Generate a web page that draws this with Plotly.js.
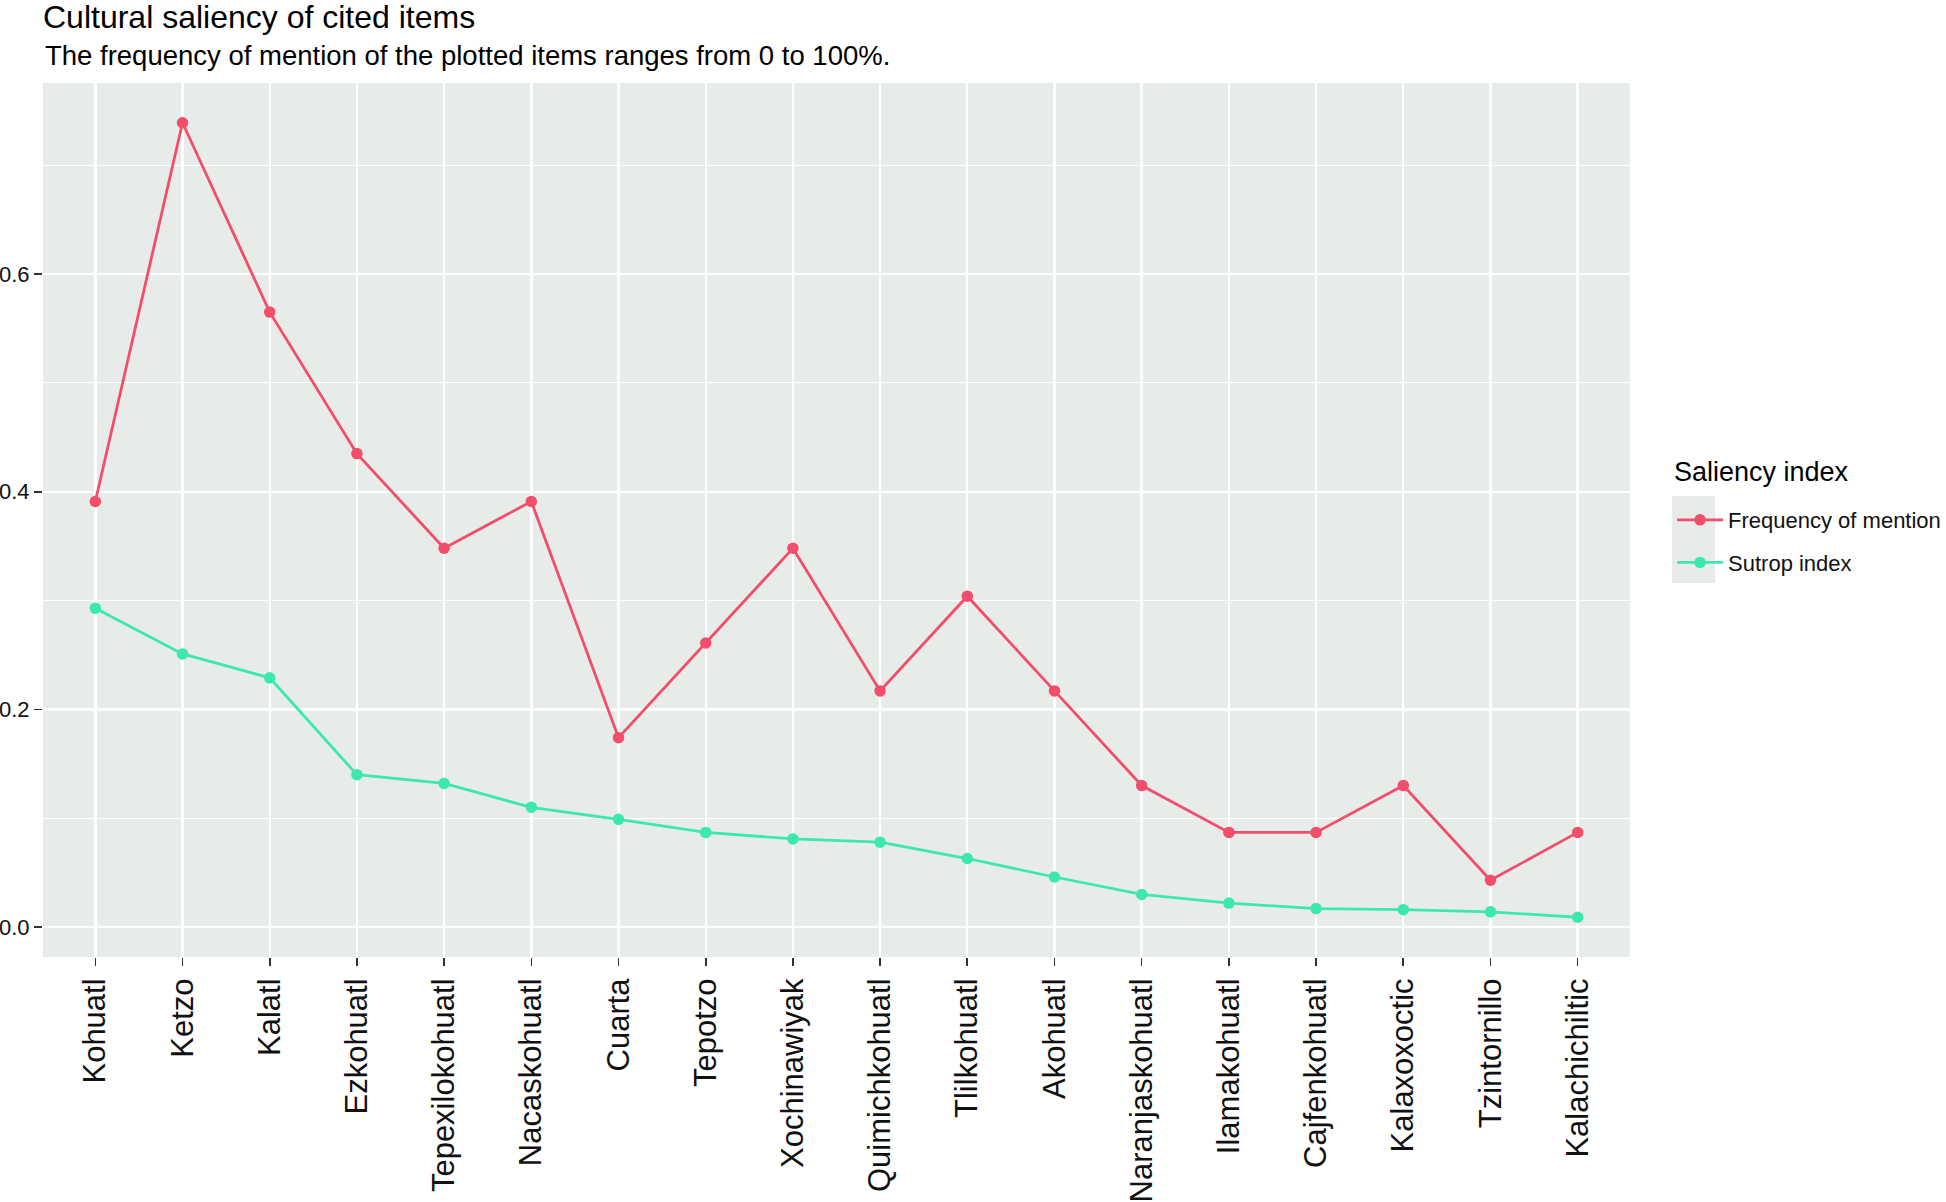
<!DOCTYPE html>
<html>
<head>
<meta charset="utf-8">
<script src="https://cdn.plot.ly/plotly-3.0.1.min.js"></script>
<style>
  html, body { margin: 0; padding: 0; background: #fff; }
  #chart { width: 1946px; height: 1202px; }
</style>
</head>
<body>
<div id="chart"></div>
<script>
// cited items, in plotted order
const items = [
    'Kohuatl', 'Ketzo', 'Kalatl', 'Ezkohuatl', 'Tepexilokohuatl', 'Nacaskohuatl',
    'Cuarta', 'Tepotzo', 'Xochinawiyak', 'Quimichkohuatl', 'Tlilkohuatl', 'Akohuatl',
    'Naranjaskohuatl', 'Ilamakohuatl', 'Cajfenkohuatl', 'Kalaxoxoctic', 'Tzintornillo', 'Kalachichiltic'
];

// frequency of mention (share of informants)
const frequency = [
    0.391, 0.739, 0.565, 0.435, 0.348, 0.391,
    0.174, 0.261, 0.348, 0.217, 0.304, 0.217,
    0.130, 0.087, 0.087, 0.130, 0.043, 0.087
];

// Sutrop index
const sutrop = [
    0.293, 0.251, 0.229, 0.140, 0.132, 0.110,
    0.099, 0.087, 0.081, 0.078, 0.063, 0.046,
    0.030, 0.022, 0.017, 0.016, 0.014, 0.009
];

const yTicks = [0, 0.2, 0.4, 0.6];

const FONT = 'Liberation Sans, Arial, Helvetica, sans-serif';
const RED = '#F24D6A';
const GREEN = '#3DE8B0';
const PANEL = '#E7ECE9';

function lineTrace(name, values, color, group) {
    return {
        x: items,
        y: values,
        name,
        legendgroup: group,
        type: 'scatter',
        mode: 'lines+markers',
        line: { color, width: 2.8 },
        marker: { color, size: 11.5 },
        hoverinfo: 'x+y+name',
    };
}

const data = [
    lineTrace('Frequency of mention', frequency, RED, 'freq'),
    lineTrace('Sutrop index', sutrop, GREEN, 'sutrop'),
];

// ggplot-like padding around the data
const yMin = Math.min(...sutrop), yMax = Math.max(...frequency);
const pad = (yMax - yMin) * 0.05;

const layout = {
    width: 1946,
    height: 1202,
    // fixed panel; keep the legend from pushing the margins
    margin: { l: 43, r: 316, t: 83, b: 245, autoexpand: false },
    paper_bgcolor: '#fff',
    plot_bgcolor: PANEL,
    font: { family: FONT, color: '#111' },
    title: {
        text: 'Cultural saliency of cited items',
        font: { size: 32, color: '#000' },
        xref: 'paper', x: 0, xanchor: 'left',
        yref: 'container', y: 0.986, yanchor: 'middle',
    },
    annotations: [{
        text: 'The frequency of mention of the plotted items ranges from 0 to 100%.',
        xref: 'paper', x: 0, xanchor: 'left',
        yref: 'paper', y: 1.031, yanchor: 'middle',
        showarrow: false,
        font: { size: 27.5, color: '#000' },
    }, {
        // legend heading, placed by hand to get the ggplot spacing
        text: 'Saliency index',
        xref: 'paper', x: 1.0265, xanchor: 'left',
        yref: 'paper', y: 0.555, yanchor: 'middle',
        showarrow: false,
        font: { size: 27, color: '#000' },
    }],
    shapes: [{
        // grey backing behind the legend keys
        type: 'rect', xref: 'paper', yref: 'paper',
        x0: 1.0265, x1: 1.0536, y0: 0.428, y1: 0.5275,
        fillcolor: PANEL, line: { width: 0 }, layer: 'below',
    }],
    xaxis: {
        type: 'category',
        range: [-0.6, items.length - 0.4],
        tickangle: -90,
        tickfont: { size: 31, color: '#111' },
        ticks: 'outside', ticklen: 8, tickwidth: 1.6, tickcolor: '#333',
        showgrid: true, gridcolor: '#fff', gridwidth: 2.4,
        zeroline: false, showline: false,
        automargin: false,
    },
    yaxis: {
        range: [yMin - pad, yMax + pad],
        tickvals: yTicks,
        tickformat: '.1f',
        tickfont: { size: 22, color: '#111' },
        ticks: 'outside', ticklen: 8, tickwidth: 1.6, tickcolor: '#333',
        showgrid: true, gridcolor: '#fff', gridwidth: 2.4,
        minor: { dtick: 0.1, tick0: 0.1, showgrid: true, gridcolor: '#fff', gridwidth: 1.2 },
        zeroline: false, showline: false,
        automargin: false,
    },
    showlegend: true,
    legend: {
        x: 1.0265, xanchor: 'left',
        y: 0.524, yanchor: 'top',
        bgcolor: 'rgba(0,0,0,0)',
        font: { size: 22, color: '#111' },
        tracegroupgap: 11,
        itemwidth: 46,
    },
};

Plotly.newPlot('chart', data, layout, { displayModeBar: false, staticPlot: true });
</script>
</body>
</html>
